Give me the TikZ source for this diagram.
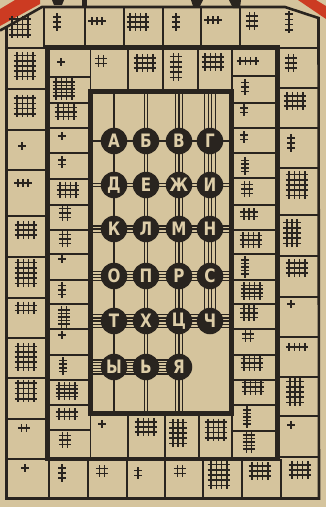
\documentclass[tikz,border=0pt]{standalone}
\usepackage{fontspec}
\newfontfamily\letfont{DejaVu Sans}[FakeStretch=0.82]
\definecolor{paper}{HTML}{D5C49D}
\definecolor{ink}{HTML}{29241F}
\definecolor{roofred}{HTML}{CC3B22}
\definecolor{letc}{HTML}{DDCDA8}
\newcommand\gsym[6]{%
  \pgfmathsetmacro\gsw{((#3)-1)*(#5)/2}%
  \pgfmathsetmacro\gsh{((#4)-1)*(#6)/2}%
  \foreach \gi in {1,...,#3}{\draw[symline] ({#1-\gsw+(\gi-1)*(#5)},{#2-\gsh-3.6}) -- ++(0,{2*\gsh+7.2});}%
  \foreach \gj in {1,...,#4}{\draw[symline] ({#1-\gsw-3.6},{#2-\gsh+(\gj-1)*(#6)}) -- ++({2*\gsw+7.2},0);}%
}
\begin{document}
\begin{tikzpicture}[x=1pt,y=-1pt,
  symline/.style={draw=ink,line width=1.5pt},
  cell/.style={draw=ink,line width=1.6pt},
  frame/.style={draw=ink,line width=2.6pt,line join=miter},
  thick border/.style={draw=ink,line width=4.5pt},
  cline/.style={draw=ink,line width=1.2pt},
  letter/.style={circle,fill=ink,minimum size=26.5pt,inner sep=0pt,text=letc,
     font=\letfont\bfseries\fontsize{18.5}{18.5}\selectfont}]
\useasboundingbox (0,0) rectangle (326,507);
\fill[paper] (0,0) rectangle (326,507);
% red roof fragments
\fill[roofred] (0,9) -- (15,0) -- (40,0) -- (40,4) -- (0,26) -- cycle;
\fill[roofred] (298,0) -- (316,0) -- (326,6) -- (326,19) -- cycle;
% dark fragments at top edge
\fill[ink] (52,0) -- (64,0) -- (62,5) -- (54,5) -- cycle;
\fill[ink] (82,0) -- (87,0) -- (87,7) -- (82,7) -- cycle;
\fill[ink] (191,0) -- (203,0) -- (200,6) -- (193,6) -- cycle;
\fill[ink] (229,0) -- (241,0) -- (240,8) -- (233,8) -- cycle;
% outer frame with chamfered top corners
\draw[frame] (6.5,27) -- (42,7) -- (285,7) -- (318.5,18) -- (319,498.5) -- (6.5,498.5) -- cycle;
\draw[frame] (0,30.5) -- (6.5,27);
% outer ring cells
\foreach \x in {44,85,124,163,201,240} \draw[cell] (\x,7) -- (\x,47.5);
\foreach \x in {49,88,127,165,203,242,281} \draw[cell] (\x,459) -- (\x,498.5);
\foreach \y in {48,89,130,170,216,257,298,338,378,419,459} \draw[cell] (6.5,\y) -- (47.5,\y);
\foreach \y in {48,88,128,168,215,256,297,337,377,416,457} \draw[cell] (277.5,\y) -- (319,\y);
% inner ring cells
\draw[cell] (90.5,47.5) -- (90.5,459);
\draw[cell] (232,47.5) -- (232,459);
\foreach \y in {77,103,128,153,179,205,230,254,280,304,329,355,380,405,430} \draw[cell] (47.5,\y) -- (90.5,\y);
\foreach \y in {76,103,128,153,178,205,230,254,280,304,329,355,380,405,431} \draw[cell] (232,\y) -- (277.5,\y);
\foreach \x in {128,163,198} \draw[cell] (\x,47.5) -- (\x,91.5);
\foreach \x in {128,165,199} \draw[cell] (\x,413.5) -- (\x,459);
% thick borders
\draw[thick border] (47.5,47.5) rectangle (277.5,459);
\draw[draw=ink,line width=4.2pt] (90.5,91.5) rectangle (231.5,413.5);
% outer symbols
\foreach \x/\y/\v/\h in {20/27/4/4, 57/22/1/3, 97/21/3/1, 138/22/4/3, 176/22/1/3, 213/20/3/1, 252/21/2/3, 289/22/1/4,
  25/66/4/5, 25/106/4/4, 22/146/1/1, 23/183/3/1, 26/230/4/3, 26/273/4/5, 26/308/4/2, 26/357/4/5, 26/391/4/4, 24/428/2/1, 25/468/1/1,
  62/473/1/3, 102/471/2/2, 138/473/1/2, 180/471/2/2, 219/475/4/5, 260/471/4/3, 300/470/4/3,
  291/63/2/3, 295/101/4/3, 291/143/1/3, 297/185/4/5, 292/233/3/5, 297/268/4/3, 291/304/1/1, 297/347/4/1, 295/392/3/5, 291/425/1/1,
  101/61/2/2, 145/63/4/3, 176/67/2/5, 213/62/4/3,
  102/424/1/1, 146/427/4/3, 178/433/3/5, 216/430/4/4}
  {\gsym{\x}{\y}{\v}{\h}{5.2}{5.2}}
% inner column symbols
\foreach \x/\y/\v/\h in {61/62/1/1, 64/89/4/5, 66/112/4/3, 62/136/1/1, 62/162/1/2, 68/190/4/3, 65/213/2/3, 65/239/2/3,
  62/259/1/1, 62/290/1/3, 64/317/2/5, 62/335/1/1, 63/366/1/4, 67/391/4/4, 67/414/4/2, 65/440/2/3,
  248/61/4/1, 245/87/1/3, 244/110/1/2, 244/137/1/2, 245/166/1/4, 247/189/2/3, 249/214/3/2, 251/240/4/3,
  245/267/1/5, 252/291/4/4, 249/313/3/3, 248/336/2/2, 252/363/4/3, 253/387/4/3, 247/417/1/5, 249/442/2/5}
  {\pgfmathsetmacro\dyy{\h>3 ? 3.6 : 4.5}\gsym{\x}{\y}{\v}{\h}{5.2}{\dyy}}
% centre: letter positions
\foreach \r/\ry in {1/141,2/185,3/229,4/276,5/321,6/367}
  \foreach \c/\cx in {1/114,2/146,3/179,4/210}
    \coordinate (p\r\c) at (\cx,\ry);
\foreach \c/\cx in {1/114,2/146,3/179,4/210} \coordinate (ct\c) at (\cx,93.5);
\foreach \c/\cx in {1/114,2/146,3/179} \coordinate (cb\c) at (\cx,411.5);
\foreach \r/\ry in {1/141,2/185,3/229,4/276,5/321,6/367} \coordinate (rl\r) at (92.5,\ry);
\foreach \r/\ry in {1/141,2/185,3/229,4/276,5/321} \coordinate (rr\r) at (229.5,\ry);
% vertical connectors: column j carries j lines
\foreach \c in {1,2,3}
  \foreach \i in {1,...,\c}
    \draw[cline] ([xshift={(\i-(\c+1)/2)*3.6}]ct\c) -- ([xshift={(\i-(\c+1)/2)*3.6}]cb\c);
\foreach \i in {1,...,4}
  \draw[cline] ([xshift={(\i-2.5)*3.6}]ct4) -- ([xshift={(\i-2.5)*3.6}]p54);
% horizontal connectors: row k carries k lines
\foreach \r in {1,...,5}
  \foreach \i in {1,...,\r}
    \draw[cline] ([yshift={(\i-(\r+1)/2)*3.1}]rl\r) -- ([yshift={(\i-(\r+1)/2)*3.1}]rr\r);
\foreach \i in {1,...,6}
  \draw[cline] ([yshift={(\i-3.5)*2.8}]rl6) -- ([yshift={(\i-3.5)*2.8}]p63);
% letters
\foreach \r/\c/\t in {1/1/А,1/2/Б,1/3/В,1/4/Г,2/1/Д,2/2/Е,2/3/Ж,2/4/И,3/1/К,3/2/Л,3/3/М,3/4/Н,
  4/1/О,4/2/П,4/3/Р,4/4/С,5/1/Т,5/2/Х,5/3/Ц,5/4/Ч,6/1/Ы,6/2/Ь,6/3/Я}
  \node[letter] (L\r\c) at (p\r\c) {\t};
\end{tikzpicture}
\end{document}
